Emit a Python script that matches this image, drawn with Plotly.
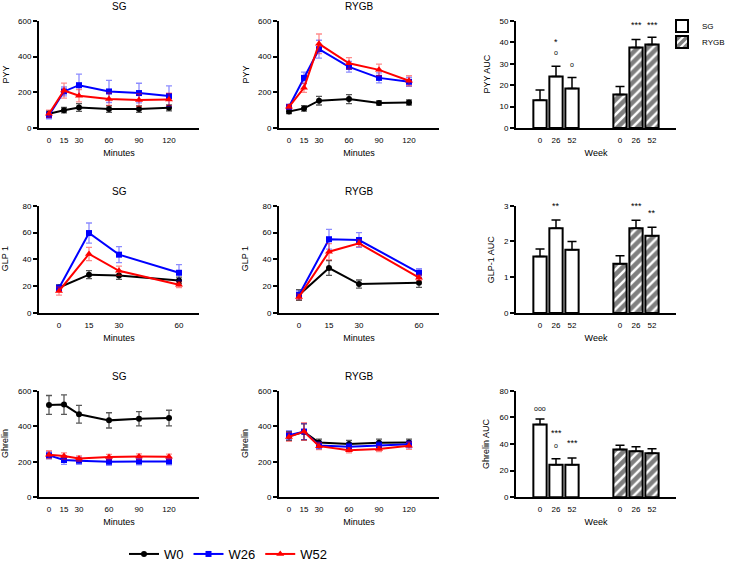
import plotly.graph_objects as go

# ---------------- data ----------------
minutes_long = [0, 15, 30, 60, 90, 120]
minutes_short = [0, 15, 30, 60]
series_names = ["W0", "W26", "W52"]

# PYY (SG)
pyy_sg_w0 = [80, 100, 115, 106, 106, 113]
pyy_sg_w0_err = [15, 15, 22, 18, 18, 17]
pyy_sg_w26 = [72, 205, 240, 205, 196, 179]
pyy_sg_w26_err = [20, 25, 62, 62, 55, 57]
pyy_sg_w52 = [80, 210, 181, 162, 157, 160]
pyy_sg_w52_err = [20, 42, 35, 35, 35, 35]
# PYY (RYGB)
pyy_rygb_w0 = [93, 110, 153, 162, 140, 143]
pyy_rygb_w0_err = [12, 15, 24, 25, 12, 14]
pyy_rygb_w26 = [119, 281, 442, 343, 281, 259]
pyy_rygb_w26_err = [12, 32, 50, 30, 28, 25]
pyy_rygb_w52 = [119, 225, 472, 363, 326, 265]
pyy_rygb_w52_err = [12, 25, 55, 32, 32, 28]
# GLP 1 (SG)
glp_sg_w0 = [19, 28.6, 28, 24.3]
glp_sg_w0_err = [2, 3, 3, 2.5]
glp_sg_w26 = [18.6, 59.6, 43.5, 30]
glp_sg_w26_err = [2.5, 7.5, 6, 6]
glp_sg_w52 = [16.4, 44, 31.5, 21]
glp_sg_w52_err = [3, 5, 3.5, 2]
# GLP 1 (RYGB)
glp_rygb_w0 = [13.4, 33.5, 21.6, 22.6]
glp_rygb_w0_err = [4, 5.5, 3, 3.5]
glp_rygb_w26 = [13.4, 55, 54.4, 30]
glp_rygb_w26_err = [3, 7.4, 5.5, 3]
glp_rygb_w52 = [12, 45.7, 52, 26.3]
glp_rygb_w52_err = [2, 6, 2.5, 2]
# Ghrelin (SG)
ghr_sg_w0 = [520, 522, 467, 433, 442, 446]
ghr_sg_w0_err = [53, 55, 50, 43, 40, 44]
ghr_sg_w26 = [236, 210, 206, 200, 202, 202]
ghr_sg_w26_err = [20, 25, 20, 20, 20, 20]
ghr_sg_w52 = [240, 232, 218, 227, 229, 228]
ghr_sg_w52_err = [22, 18, 15, 15, 15, 15]
# Ghrelin (RYGB)
ghr_rygb_w0 = [345, 368, 308, 300, 307, 308]
ghr_rygb_w0_err = [25, 45, 20, 20, 20, 20]
ghr_rygb_w26 = [350, 370, 292, 285, 292, 298]
ghr_rygb_w26_err = [25, 45, 20, 20, 20, 20]
ghr_rygb_w52 = [340, 370, 288, 265, 272, 290]
ghr_rygb_w52_err = [25, 50, 20, 15, 15, 20]

# AUC bars
week_labels = ["0", "26", "52"]
pyy_auc_sg = [13.0, 24.1, 18.5]
pyy_auc_sg_err = [4.7, 4.8, 5.1]
pyy_auc_rygb = [15.7, 37.6, 39.0]
pyy_auc_rygb_err = [3.7, 3.7, 3.4]
glp_auc_sg = [1.58, 2.37, 1.77]
glp_auc_sg_err = [0.21, 0.23, 0.23]
glp_auc_rygb = [1.38, 2.37, 2.16]
glp_auc_rygb_err = [0.22, 0.22, 0.24]
ghr_auc_sg = [54.6, 24.4, 24.4]
ghr_auc_sg_err = [4.2, 4.5, 5.0]
ghr_auc_rygb = [35.9, 34.6, 33.1]
ghr_auc_rygb_err = [3.2, 3.3, 3.3]

# significance marks: (panel, group, week index, text, y value)
sig_panel = [3, 3, 3, 3, 3, 6, 6, 6, 9, 9, 9, 9]
sig_group = ["SG", "SG", "SG", "RYGB", "RYGB", "SG", "RYGB", "RYGB", "SG", "SG", "SG", "SG"]
sig_index = [1, 1, 2, 1, 2, 1, 1, 2, 0, 1, 1, 2]
sig_text = ["*", "o", "o", "***", "***", "**", "***", "**", "ooo", "***", "o", "***"]
sig_y = [40.2, 35.2, 29.8, 48, 48, 3.0, 3.0, 2.79, 66.8, 48.1, 39.1, 40.6]

# ---------------- layout helpers ----------------
W, H = 731, 561
FONT = "Liberation Sans, Arial, Helvetica, sans-serif"
colors = {"W0": "black", "W26": "#0000ff", "W52": "#ff0000"}
err_colors = {"W0": "rgba(0,0,0,0.65)", "W26": "rgba(0,0,255,0.45)", "W52": "rgba(255,0,0,0.45)"}
symbols = {"W0": "circle", "W26": "square", "W52": "triangle-up"}
msize = {"W0": 6, "W26": 6, "W52": 7}

col_px = [(39, 199), (279, 439), (516, 676)]
row_px = [(21, 128), (205.7, 313), (390.7, 497.3)]
sg_pos = [1.5, 2.5, 3.5]
rygb_pos = [6.5, 7.5, 8.5]

fig = go.Figure()
layout = dict(
    width=W, height=H, margin=dict(l=0, r=0, t=0, b=0, autoexpand=False),
    paper_bgcolor="white", plot_bgcolor="white",
    font=dict(family=FONT, size=8, color="black"),
    annotations=[],
)

def axname(i, letter):
    return f"{letter}axis" if i == 1 else f"{letter}axis{i}"

def base_axis():
    return dict(showline=True, linecolor="black", linewidth=2, showgrid=False,
                zeroline=False, ticks="outside", tickwidth=1.5, ticklen=4,
                tickcolor="black", tickfont=dict(size=8, family=FONT, color="black"),
                automargin=False)

panel_defs = {
    1: dict(kind="line", title="SG", ytitle="PYY", x=minutes_long, yr=[0, 600], ytv=[0, 200, 400, 600],
            xr=[-10, 150], xtv=minutes_long,
            ser=[(pyy_sg_w0, pyy_sg_w0_err), (pyy_sg_w26, pyy_sg_w26_err), (pyy_sg_w52, pyy_sg_w52_err)]),
    2: dict(kind="line", title="RYGB", ytitle="PYY", x=minutes_long, yr=[0, 600], ytv=[0, 200, 400, 600],
            xr=[-10, 150], xtv=minutes_long,
            ser=[(pyy_rygb_w0, pyy_rygb_w0_err), (pyy_rygb_w26, pyy_rygb_w26_err), (pyy_rygb_w52, pyy_rygb_w52_err)]),
    3: dict(kind="bar", ytitle="PYY AUC", yr=[0, 50], ytv=[0, 10, 20, 30, 40, 50],
            sg=(pyy_auc_sg, pyy_auc_sg_err), rygb=(pyy_auc_rygb, pyy_auc_rygb_err)),
    4: dict(kind="line", title="SG", ytitle="GLP 1", x=minutes_short, yr=[0, 80], ytv=[0, 20, 40, 60, 80],
            xr=[-10, 70], xtv=minutes_short,
            ser=[(glp_sg_w0, glp_sg_w0_err), (glp_sg_w26, glp_sg_w26_err), (glp_sg_w52, glp_sg_w52_err)]),
    5: dict(kind="line", title="RYGB", ytitle="GLP 1", x=minutes_short, yr=[0, 80], ytv=[0, 20, 40, 60, 80],
            xr=[-10, 70], xtv=minutes_short,
            ser=[(glp_rygb_w0, glp_rygb_w0_err), (glp_rygb_w26, glp_rygb_w26_err), (glp_rygb_w52, glp_rygb_w52_err)]),
    6: dict(kind="bar", ytitle="GLP-1 AUC", yr=[0, 3], ytv=[0, 1, 2, 3],
            sg=(glp_auc_sg, glp_auc_sg_err), rygb=(glp_auc_rygb, glp_auc_rygb_err)),
    7: dict(kind="line", title="SG", ytitle="Ghrelin", x=minutes_long, yr=[0, 600], ytv=[0, 200, 400, 600],
            xr=[-10, 150], xtv=minutes_long,
            ser=[(ghr_sg_w0, ghr_sg_w0_err), (ghr_sg_w26, ghr_sg_w26_err), (ghr_sg_w52, ghr_sg_w52_err)]),
    8: dict(kind="line", title="RYGB", ytitle="Ghrelin", x=minutes_long, yr=[0, 600], ytv=[0, 200, 400, 600],
            xr=[-10, 150], xtv=minutes_long,
            ser=[(ghr_rygb_w0, ghr_rygb_w0_err), (ghr_rygb_w26, ghr_rygb_w26_err), (ghr_rygb_w52, ghr_rygb_w52_err)]),
    9: dict(kind="bar", ytitle="Ghrelin AUC", yr=[0, 80], ytv=[0, 20, 40, 60, 80],
            sg=(ghr_auc_sg, ghr_auc_sg_err), rygb=(ghr_auc_rygb, ghr_auc_rygb_err)),
}
ytitle_x = {1: 5, 2: 245, 3: 486, 4: 5, 5: 245, 6: 491, 7: 5, 8: 245, 9: 486}

for p in range(1, 10):
    d = panel_defs[p]
    r, c = (p - 1) // 3, (p - 1) % 3
    x0, x1 = col_px[c]
    y0, y1 = row_px[r]
    xa = base_axis()
    ya = base_axis()
    xa.update(domain=[x0 / W, x1 / W], anchor=f"y{p}" if p > 1 else "y")
    ya.update(domain=[1 - y1 / H, 1 - y0 / H], anchor=f"x{p}" if p > 1 else "x",
              range=d["yr"], tickvals=d["ytv"])
    xref = "x" if p == 1 else f"x{p}"
    yref = "y" if p == 1 else f"y{p}"

    if d["kind"] == "line":
        xa.update(range=d["xr"], tickvals=d["xtv"], ticks="outside", ticklen=3,
                  tickcolor="rgba(0,0,0,0)",
                  title=dict(text="Minutes", font=dict(size=9, family=FONT, color="black"), standoff=6))
        for name, (vals, errs) in zip(series_names, d["ser"]):
            fig.add_trace(go.Scatter(
                x=d["x"], y=vals, mode="lines+markers", name=name,
                xaxis=xref, yaxis=yref,
                line=dict(color=colors[name], width=2),
                marker=dict(symbol=symbols[name], size=msize[name], color=colors[name]),
                error_y=dict(type="data", array=errs, color=err_colors[name], thickness=1.3, width=3),
                showlegend=(p == 1), legend="legend", cliponaxis=False,
            ))
        layout["annotations"].append(dict(
            text=d["title"], xref="paper", yref="paper", x=(x0 + x1) / 2 / W, y=1 - (y0 - 14) / H,
            showarrow=False, font=dict(size=10, family=FONT, color="black"),
            xanchor="center", yanchor="middle"))
    else:
        xa.update(range=[0, 10], tickvals=sg_pos + rygb_pos, ticktext=week_labels + week_labels,
                  ticks="outside", ticklen=3, tickcolor="rgba(0,0,0,0)",
                  title=dict(text="Week", font=dict(size=9, family=FONT, color="black"), standoff=6))
        sg_vals, sg_err = d["sg"]
        ry_vals, ry_err = d["rygb"]
        fig.add_trace(go.Bar(
            x=sg_pos, y=sg_vals, width=0.83, name="SG", xaxis=xref, yaxis=yref,
            marker=dict(color="white", line=dict(color="black", width=2)),
            error_y=dict(type="data", symmetric=False, array=sg_err, arrayminus=[0] * len(sg_err),
                         color="black", thickness=1.5, width=4.5),
            showlegend=(p == 3), legend="legend2",
        ))
        fig.add_trace(go.Bar(
            x=rygb_pos, y=ry_vals, width=0.83, name="RYGB", xaxis=xref, yaxis=yref,
            marker=dict(color="white", line=dict(color="black", width=2),
                        pattern=dict(shape="/", fgcolor="black", bgcolor="white", size=7, solidity=0.65)),
            error_y=dict(type="data", symmetric=False, array=ry_err, arrayminus=[0] * len(ry_err),
                         color="black", thickness=1.5, width=4.5),
            showlegend=(p == 3), legend="legend3",
        ))
        for pan, grp, idx, txt, yv in zip(sig_panel, sig_group, sig_index, sig_text, sig_y):
            if pan != p:
                continue
            xpos = (sg_pos if grp == "SG" else rygb_pos)[idx]
            layout["annotations"].append(dict(
                text=txt, xref=xref, yref=yref, x=xpos, y=yv, showarrow=False,
                font=dict(size=9 if "*" in txt else 7, family=FONT, color="black"),
                xanchor="center", yanchor="middle"))

    layout["annotations"].append(dict(
        text=d["ytitle"], xref="paper", yref="paper", x=ytitle_x[p] / W, y=1 - (y0 + y1) / 2 / H,
        textangle=-90, showarrow=False, font=dict(size=9, family=FONT, color="black"),
        xanchor="center", yanchor="middle"))

    layout[axname(p, "x")] = xa
    layout[axname(p, "y")] = ya

layout["legend"] = dict(orientation="h", x=228 / W, xanchor="center", y=1 - 554 / H, yanchor="middle",
                        font=dict(size=13, family=FONT, color="black"), bgcolor="rgba(0,0,0,0)")
layout["legend2"] = dict(orientation="v", x=662 / W, xanchor="left", y=1 - 26 / H, yanchor="middle",
                         font=dict(size=8, family=FONT, color="black"), bgcolor="rgba(0,0,0,0)")
layout["legend3"] = dict(orientation="v", x=662 / W, xanchor="left", y=1 - 42 / H, yanchor="middle",
                         font=dict(size=8, family=FONT, color="black"), bgcolor="rgba(0,0,0,0)")
layout["barmode"] = "overlay"

fig.update_layout(**layout)
fig.write_html("out.html", config={"displayModeBar": False},
               post_script="document.body.style.margin='0';document.body.style.padding='0';")
